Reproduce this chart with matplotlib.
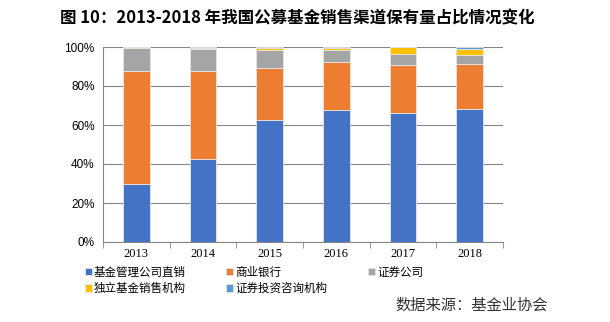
import matplotlib.pyplot as plt
import numpy as np
from matplotlib.ticker import PercentFormatter

plt.rcParams['font.family'] = ['Noto Sans CJK SC', 'DejaVu Sans']

years = ["2013", "2014", "2015", "2016", "2017", "2018"]
direct = [29.5, 42.7, 62.6, 67.5, 66.3, 68.4]      # 基金管理公司直销
bank = [58.3, 45.1, 26.5, 24.8, 24.5, 22.9]        # 商业银行
broker = [11.9, 11.3, 9.4, 6.3, 5.8, 4.6]          # 证券公司
indep = [0.2, 0.5, 1.1, 0.7, 3.4, 3.2]             # 独立基金销售机构
advisor = [0.1, 0.4, 0.4, 0.7, 0.0, 0.9]           # 证券投资咨询机构

names = ["基金管理公司直销", "商业银行", "证券公司", "独立基金销售机构", "证券投资咨询机构"]
colors = ["#4472C4", "#ED7D31", "#A5A5A5", "#FFC000", "#5B9BD5"]


def main():
    fig = plt.figure(figsize=(6.1, 3.22), dpi=100)
    ax = fig.add_axes([103 / 610, 80 / 322, 400 / 610, 195 / 322])

    x = np.arange(len(years))
    bottom = np.zeros(len(years))
    handles = []
    for vals, name, c in zip([direct, bank, broker, indep, advisor], names, colors):
        b = ax.bar(x, vals, 0.4, bottom=bottom, color=c, label=name,
                   edgecolor="#e6e6e6", linewidth=0.6)
        handles.append(b)
        bottom += np.array(vals)

    ax.set_xlim(-0.5, len(years) - 0.5)
    ax.set_ylim(0, 100)
    ax.set_yticks(range(0, 101, 20))
    ax.yaxis.set_major_formatter(PercentFormatter(decimals=0))
    ax.set_xticks(x)
    ax.set_xticklabels(years, fontfamily="Liberation Serif", fontsize=9)
    ax.set_xticks(np.arange(-0.5, len(years), 1), minor=True)
    for lab in ax.get_yticklabels():
        lab.set_fontfamily("Liberation Sans")
        lab.set_fontsize(8.5)
    ax.tick_params(axis="x", which="major", length=0, pad=4)
    ax.tick_params(axis="x", which="minor", length=4, color="#868686", direction="out")
    ax.tick_params(axis="y", length=0, pad=6)

    ax.yaxis.grid(True, color="#868686", linewidth=0.8)
    ax.set_axisbelow(True)
    for s in ["top", "right"]:
        ax.spines[s].set_visible(False)
    ax.spines["left"].set_color("#868686")
    ax.spines["bottom"].set_color("#868686")

    # legend is filled column-wise; reorder so it reads row-wise like the original
    order = [0, 3, 1, 4, 2]
    fig.legend(handles=[handles[i] for i in order], labels=[names[i] for i in order],
               loc="upper left", bbox_to_anchor=(80 / 610, 1 - 261 / 322),
               ncol=3, frameon=False, fontsize=8.3, handlelength=0.6, handleheight=0.6,
               handletextpad=0.2, columnspacing=3.5, labelspacing=0.3, borderaxespad=0)

    fig.text(60 / 610, 1 - 18 / 322, "图 10：2013-2018 年我国公募基金销售渠道保有量占比情况变化",
             fontsize=11.9, fontweight="bold", va="center", ha="left")
    fig.text(548 / 610, 1 - 305 / 322, "数据来源：基金业协会", fontsize=11,
             va="center", ha="right", color="#333333")

    fig.savefig("out.png", dpi=100)


if __name__ == '__main__':
    main()
